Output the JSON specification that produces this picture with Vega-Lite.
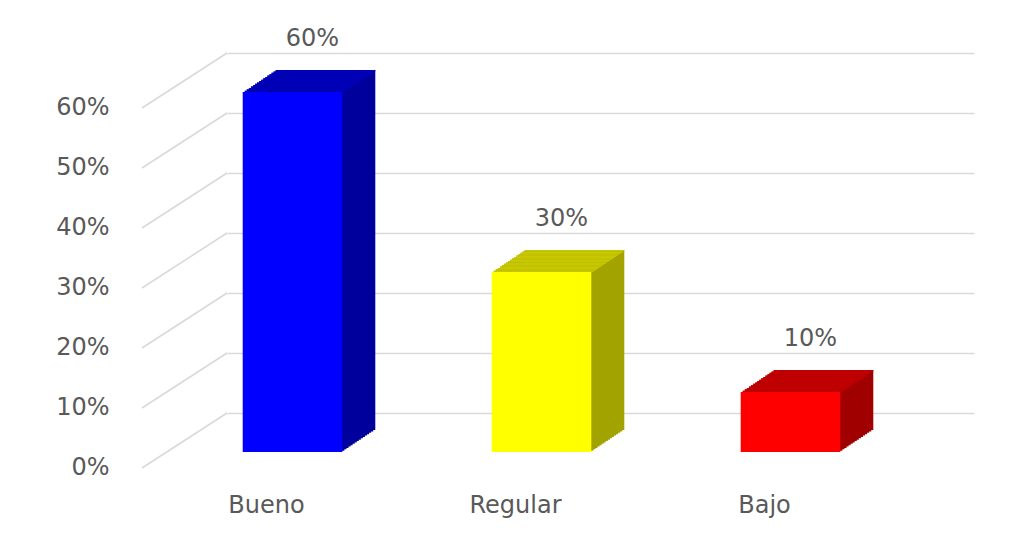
{
  "$schema": "https://vega.github.io/schema/vega-lite/v6.json",
  "autosize": "none",
  "width": 747,
  "height": 360,
  "padding": {"left": 227, "top": 53, "right": 45, "bottom": 123},
  "background": "white",
  "config": {
    "view": {"stroke": null},
    "font": "DejaVu Sans",
    "axisY": {"domain": false, "ticks": false, "labelPadding": 118, "labelOffset": 54, "labelFontSize": 24, "labelFont": "DejaVu Sans", "labelColor": "#595959", "gridColor": "#d9d9d9", "gridWidth": 1.5, "tickCount": 7, "format": ".0%", "title": null},
    "axisX": {"domain": false, "ticks": false, "grid": false, "labelPadding": 99, "labelBaseline": "alphabetic", "labelOffset": -85, "labelFontSize": 24, "labelFont": "DejaVu Sans", "labelColor": "#595959", "labelAngle": 0, "title": null}
  },
  "datasets": {
    "niveles": [
      {"nivel": "Bueno", "pct": 0.6},
      {"nivel": "Regular", "pct": 0.3},
      {"nivel": "Bajo", "pct": 0.1}
    ],
    "ticks": [{"t": 0}, {"t": 0.1}, {"t": 0.2}, {"t": 0.3}, {"t": 0.4}, {"t": 0.5}, {"t": 0.6}]
  },
  "data": {"name": "niveles"},
  "layer": [
    {
      "data": {"name": "ticks"},
      "mark": {"type": "rule", "color": "#d9d9d9", "strokeWidth": 1.5, "x2Offset": -85, "y2Offset": 55},
      "encoding": {
        "x": {"value": 0},
        "x2": {"value": 0},
        "y": {"field": "t", "type": "quantitative", "scale": {"domain": [0, 0.6], "nice": false}, "title": null},
        "y2": {"field": "t"}
      }
    },
    {
      "encoding": {
        "x": {"field": "nivel", "type": "nominal", "sort": null, "scale": {"paddingInner": 0.6, "paddingOuter": 0.3}, "title": null},
        "y": {"field": "pct", "type": "quantitative", "title": null},
        "color": {"field": "nivel", "type": "nominal", "legend": null, "scale": {"domain": ["Bueno", "Regular", "Bajo"], "range": ["#00009c", "#a3a300", "#a00000"]}}
      },
      "layer": [
        {"mark": {"type": "bar", "xOffset": -26, "x2Offset": -26, "yOffset": 17, "y2Offset": 17}},
        {"mark": {"type": "bar", "xOffset": -28.06, "x2Offset": -28.06, "yOffset": 18.38, "y2Offset": 18.38}},
        {"mark": {"type": "bar", "xOffset": -30.13, "x2Offset": -30.13, "yOffset": 19.75, "y2Offset": 19.75}},
        {"mark": {"type": "bar", "xOffset": -32.19, "x2Offset": -32.19, "yOffset": 21.13, "y2Offset": 21.13}},
        {"mark": {"type": "bar", "xOffset": -34.25, "x2Offset": -34.25, "yOffset": 22.5, "y2Offset": 22.5}},
        {"mark": {"type": "bar", "xOffset": -36.31, "x2Offset": -36.31, "yOffset": 23.88, "y2Offset": 23.88}},
        {"mark": {"type": "bar", "xOffset": -38.38, "x2Offset": -38.38, "yOffset": 25.25, "y2Offset": 25.25}},
        {"mark": {"type": "bar", "xOffset": -40.44, "x2Offset": -40.44, "yOffset": 26.63, "y2Offset": 26.63}},
        {"mark": {"type": "bar", "xOffset": -42.5, "x2Offset": -42.5, "yOffset": 28, "y2Offset": 28}},
        {"mark": {"type": "bar", "xOffset": -44.56, "x2Offset": -44.56, "yOffset": 29.38, "y2Offset": 29.38}},
        {"mark": {"type": "bar", "xOffset": -46.63, "x2Offset": -46.63, "yOffset": 30.75, "y2Offset": 30.75}},
        {"mark": {"type": "bar", "xOffset": -48.69, "x2Offset": -48.69, "yOffset": 32.13, "y2Offset": 32.13}},
        {"mark": {"type": "bar", "xOffset": -50.75, "x2Offset": -50.75, "yOffset": 33.5, "y2Offset": 33.5}},
        {"mark": {"type": "bar", "xOffset": -52.81, "x2Offset": -52.81, "yOffset": 34.88, "y2Offset": 34.88}},
        {"mark": {"type": "bar", "xOffset": -54.88, "x2Offset": -54.88, "yOffset": 36.25, "y2Offset": 36.25}},
        {"mark": {"type": "bar", "xOffset": -56.94, "x2Offset": -56.94, "yOffset": 37.63, "y2Offset": 37.63}}
      ]
    },
    {
      "encoding": {
        "x": {"field": "nivel", "type": "nominal", "sort": null, "title": null},
        "y": {"field": "pct", "type": "quantitative", "title": null},
        "y2": {"field": "pct"},
        "color": {"field": "nivel", "type": "nominal", "legend": null, "scale": {"domain": ["Bueno", "Regular", "Bajo"], "range": ["#0000b8", "#c8c800", "#c00000"]}}
      },
      "layer": [
        {"mark": {"type": "bar", "xOffset": -26, "x2Offset": -26, "yOffset": 17, "y2Offset": 18.5}},
        {"mark": {"type": "bar", "xOffset": -28.06, "x2Offset": -28.06, "yOffset": 18.38, "y2Offset": 19.88}},
        {"mark": {"type": "bar", "xOffset": -30.13, "x2Offset": -30.13, "yOffset": 19.75, "y2Offset": 21.25}},
        {"mark": {"type": "bar", "xOffset": -32.19, "x2Offset": -32.19, "yOffset": 21.13, "y2Offset": 22.63}},
        {"mark": {"type": "bar", "xOffset": -34.25, "x2Offset": -34.25, "yOffset": 22.5, "y2Offset": 24}},
        {"mark": {"type": "bar", "xOffset": -36.31, "x2Offset": -36.31, "yOffset": 23.88, "y2Offset": 25.38}},
        {"mark": {"type": "bar", "xOffset": -38.38, "x2Offset": -38.38, "yOffset": 25.25, "y2Offset": 26.75}},
        {"mark": {"type": "bar", "xOffset": -40.44, "x2Offset": -40.44, "yOffset": 26.63, "y2Offset": 28.13}},
        {"mark": {"type": "bar", "xOffset": -42.5, "x2Offset": -42.5, "yOffset": 28, "y2Offset": 29.5}},
        {"mark": {"type": "bar", "xOffset": -44.56, "x2Offset": -44.56, "yOffset": 29.38, "y2Offset": 30.88}},
        {"mark": {"type": "bar", "xOffset": -46.63, "x2Offset": -46.63, "yOffset": 30.75, "y2Offset": 32.25}},
        {"mark": {"type": "bar", "xOffset": -48.69, "x2Offset": -48.69, "yOffset": 32.13, "y2Offset": 33.63}},
        {"mark": {"type": "bar", "xOffset": -50.75, "x2Offset": -50.75, "yOffset": 33.5, "y2Offset": 35}},
        {"mark": {"type": "bar", "xOffset": -52.81, "x2Offset": -52.81, "yOffset": 34.88, "y2Offset": 36.38}},
        {"mark": {"type": "bar", "xOffset": -54.88, "x2Offset": -54.88, "yOffset": 36.25, "y2Offset": 37.75}},
        {"mark": {"type": "bar", "xOffset": -56.94, "x2Offset": -56.94, "yOffset": 37.63, "y2Offset": 39.13}}
      ]
    },
    {
      "mark": {"type": "bar", "xOffset": -59, "x2Offset": -59, "yOffset": 39, "y2Offset": 39},
      "encoding": {
        "x": {"field": "nivel", "type": "nominal", "sort": null, "title": null},
        "y": {"field": "pct", "type": "quantitative", "title": null},
        "color": {"field": "nivel", "type": "nominal", "legend": null, "scale": {"domain": ["Bueno", "Regular", "Bajo"], "range": ["#0000ff", "#ffff00", "#ff0000"]}}
      }
    },
    {
      "mark": {"type": "text", "align": "center", "baseline": "middle", "dx": -39, "dy": -14, "fontSize": 24, "font": "DejaVu Sans", "color": "#595959"},
      "encoding": {
        "x": {"field": "nivel", "type": "nominal", "sort": null, "title": null},
        "y": {"field": "pct", "type": "quantitative", "title": null},
        "text": {"field": "pct", "type": "quantitative", "format": ".0%"}
      }
    }
  ],
  "resolve": {"scale": {"color": "independent"}}
}
